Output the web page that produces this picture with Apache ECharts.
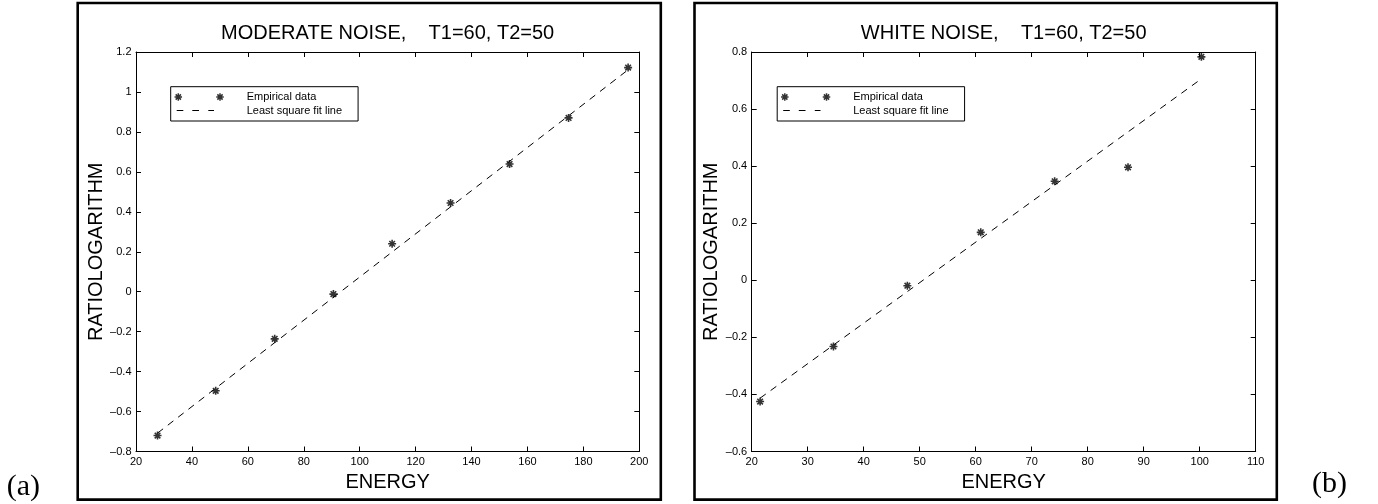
<!DOCTYPE html>
<html><head><meta charset="utf-8">
<script src="https://cdn.jsdelivr.net/npm/echarts@6/dist/echarts.min.js"></script>
<style>html,body{margin:0;padding:0;background:#fff}#c{width:1378px;height:504px}</style>
</head><body><div id="c"></div>
<script>
// ---------- data ----------
const leftTitle = 'MODERATE NOISE,    T1=60, T2=50';
const rightTitle = 'WHITE NOISE,    T1=60, T2=50';
const xName = 'ENERGY';
const yName = 'RATIOLOGARITHM';
const legendNames = ['Empirical data', 'Least square fit line'];
const panelLabels = ['(a)', '(b)'];

const leftEnergy = [27.7, 48.5, 69.6, 90.6, 111.6, 132.5, 153.6, 174.7, 196.0];
const leftRatio  = [-0.720, -0.496, -0.236, -0.012, 0.240, 0.444, 0.639, 0.870, 1.122];
const leftFitEnergy = [27.7, 196.0];
const leftFitRatio  = [-0.708, 1.111];

const rightEnergy = [21.5, 34.6, 47.8, 60.9, 74.1, 87.2, 100.3];
const rightRatio  = [-0.425, -0.232, -0.019, 0.168, 0.347, 0.396, 0.783];
const rightFitEnergy = [21.5, 100.3];
const rightFitRatio  = [-0.413, 0.706];

const leftXTicks = [20, 40, 60, 80, 100, 120, 140, 160, 180, 200];
const leftXTickLabels = ['20', '40', '60', '80', '100', '120', '140', '160', '180', '200'];
const leftYTicks = [-0.8, -0.6, -0.4, -0.2, 0, 0.2, 0.4, 0.6, 0.8, 1, 1.2];
const leftYTickLabels = ['\u20130.8', '\u20130.6', '\u20130.4', '\u20130.2', '0', '0.2', '0.4', '0.6', '0.8', '1', '1.2'];
const rightXTicks = [20, 30, 40, 50, 60, 70, 80, 90, 100, 110];
const rightXTickLabels = ['20', '30', '40', '50', '60', '70', '80', '90', '100', '110'];
const rightYTicks = [-0.6, -0.4, -0.2, 0, 0.2, 0.4, 0.6, 0.8];
const rightYTickLabels = ['\u20130.6', '\u20130.4', '\u20130.2', '0', '0.2', '0.4', '0.6', '0.8'];

// ---------- helpers ----------
const FONT = '"Liberation Sans", Arial, Helvetica, sans-serif';
function starPath(cx, cy, s) {
  const polys = [
    [[40,0],[60,0],[60,100],[40,100]],
    [[0,40],[100,40],[100,60],[0,60]],
    [[22,8],[92,78],[78,92],[8,22]],
    [[78,8],[92,22],[22,92],[8,78]]
  ];
  return polys.map(poly => 'M' + poly.map(p =>
    (cx - s/2 + p[0]*s/100).toFixed(2) + ' ' + (cy - s/2 + p[1]*s/100).toFixed(2)).join(' L') + ' Z').join(' ');
}
const starSymbol = 'path://' + starPath(50, 50, 100);
const legendStarIcon = 'path://M0 0 M680 80 ' + starPath(46, 40, 75) + ' ' + starPath(463, 40, 75);
const legendDashIcon = 'path://M0 0 M680 80 M30 35 L96 35 L96 45 L30 45 Z M186 35 L253 35 L253 45 L186 45 Z M346 35 L403 35 L403 45 L346 45 Z';

function zip(a, b) { return a.map((v, i) => [v, b[i]]); }
function fmt(ticks, labels) {
  return function (v) {
    const i = ticks.findIndex(t => Math.abs(t - v) < 1e-6);
    return i >= 0 ? labels[i] : '';
  };
}
function measure(text, font) {
  const ctx = document.createElement('canvas').getContext('2d');
  ctx.font = font;
  return ctx.measureText(text).width;
}

const grids = [
  { left: 136, top: 52, width: 503.3, height: 399.5 },
  { left: 751.7, top: 52, width: 504, height: 399.5 }
];

function xAxes(gi, ticks, labels) {
  const base = {
    type: 'value', gridIndex: gi,
    min: ticks[0], max: ticks[ticks.length - 1], interval: ticks[1] - ticks[0],
    axisLine: { show: true, onZero: false, lineStyle: { color: '#000', width: 1 } },
    axisTick: { show: true, inside: true, length: 5, lineStyle: { color: '#000', width: 1 } },
    splitLine: { show: false }
  };
  return [
    Object.assign({}, base, {
      position: 'bottom',
      name: xName, nameLocation: 'middle', nameGap: 17.5,
      nameTextStyle: { fontFamily: FONT, fontSize: 20, color: '#000' },
      axisLabel: { show: true, margin: 5, fontFamily: FONT, fontSize: 11, color: '#000', formatter: fmt(ticks, labels) }
    }),
    Object.assign({}, base, { position: 'top', axisLabel: { show: false } })
  ];
}
function yAxes(gi, ticks, labels) {
  const base = {
    type: 'value', gridIndex: gi,
    min: ticks[0], max: ticks[ticks.length - 1], interval: Math.round((ticks[1] - ticks[0]) * 1000) / 1000,
    axisLine: { show: true, onZero: false, lineStyle: { color: '#000', width: 1 } },
    axisTick: { show: true, inside: true, length: 5, lineStyle: { color: '#000', width: 1 } },
    splitLine: { show: false }
  };
  return [
    Object.assign({}, base, {
      position: 'left',
      name: yName, nameLocation: 'middle', nameGap: 27.7,
      nameTextStyle: { fontFamily: FONT, fontSize: 20, color: '#000' },
      axisLabel: { show: true, margin: 4.5, fontFamily: FONT, fontSize: 11, color: '#000', formatter: fmt(ticks, labels) }
    }),
    Object.assign({}, base, { position: 'right', axisLabel: { show: false } })
  ];
}

function makeLegend(left) {
  return {
    orient: 'vertical', left: left, top: 86.7,
    itemWidth: 68, itemHeight: 8, itemGap: 2.5,
    padding: [4.8, 16, 5, 3],
    borderColor: '#000', borderWidth: 1, backgroundColor: '#fff',
    selectedMode: false,
    textStyle: { fontFamily: FONT, fontSize: 11, color: '#000' },
    data: [
      { name: legendNames[0], icon: legendStarIcon, itemStyle: { color: '#000', borderWidth: 0 } },
      { name: legendNames[1], icon: legendDashIcon, itemStyle: { color: '#000', borderWidth: 0 } }
    ]
  };
}

function scatterSeries(xi, yi, xs, ys) {
  return {
    type: 'scatter', name: legendNames[0], xAxisIndex: xi, yAxisIndex: yi,
    symbol: starSymbol, symbolSize: 8, itemStyle: { color: '#000' }, z: 5,
    data: zip(xs, ys)
  };
}
function fitSeries(xi, yi, xs, ys) {
  return {
    type: 'line', name: legendNames[1], xAxisIndex: xi, yAxisIndex: yi,
    symbol: 'none', showSymbol: false, color: '#000',
    lineStyle: { color: '#000', width: 1, type: [7, 6] }, z: 3,
    data: zip(xs, ys)
  };
}

const titleFont = '20px ' + FONT;
const lw = measure(leftTitle, titleFont);
const rw = measure(rightTitle, titleFont);
const lc = grids[0].left + grids[0].width / 2;
const rc = grids[1].left + grids[1].width / 2;

const chart = echarts.init(document.getElementById('c'), null, { renderer: 'canvas' });
chart.setOption({
  animation: false,
  backgroundColor: '#fff',
  title: [
    { text: leftTitle, left: lc - lw / 2, top: 23, padding: 0,
      textStyle: { fontFamily: FONT, fontSize: 20, fontWeight: 'normal', color: '#000' } },
    { text: rightTitle, left: rc - rw / 2, top: 23, padding: 0,
      textStyle: { fontFamily: FONT, fontSize: 20, fontWeight: 'normal', color: '#000' } }
  ],
  grid: grids,
  xAxis: [].concat(xAxes(0, leftXTicks, leftXTickLabels), xAxes(1, rightXTicks, rightXTickLabels)),
  yAxis: [].concat(yAxes(0, leftYTicks, leftYTickLabels), yAxes(1, rightYTicks, rightYTickLabels)),
  legend: [makeLegend(170.7), makeLegend(777.2)],
  series: [
    fitSeries(0, 0, leftFitEnergy, leftFitRatio),
    scatterSeries(0, 0, leftEnergy, leftRatio),
    fitSeries(2, 2, rightFitEnergy, rightFitRatio),
    scatterSeries(2, 2, rightEnergy, rightRatio)
  ],
  graphic: [
    { type: 'rect', shape: { x: 77.7, y: 3, width: 583.1, height: 496.6 },
      style: { fill: 'none', stroke: '#000', lineWidth: 2.6 }, silent: true },
    { type: 'rect', shape: { x: 694.5, y: 3, width: 582.3, height: 496.6 },
      style: { fill: 'none', stroke: '#000', lineWidth: 2.6 }, silent: true },
    { type: 'text', x: 23.3, y: 487,
      style: { text: panelLabels[0], font: '30px "Liberation Serif", "Times New Roman", serif', fill: '#000',
               align: 'center', verticalAlign: 'middle', textAlign: 'center', textVerticalAlign: 'middle' } },
    { type: 'text', x: 1329.5, y: 484,
      style: { text: panelLabels[1], font: '30px "Liberation Serif", "Times New Roman", serif', fill: '#000',
               align: 'center', verticalAlign: 'middle', textAlign: 'center', textVerticalAlign: 'middle' } }
  ]
});
</script></body></html>
